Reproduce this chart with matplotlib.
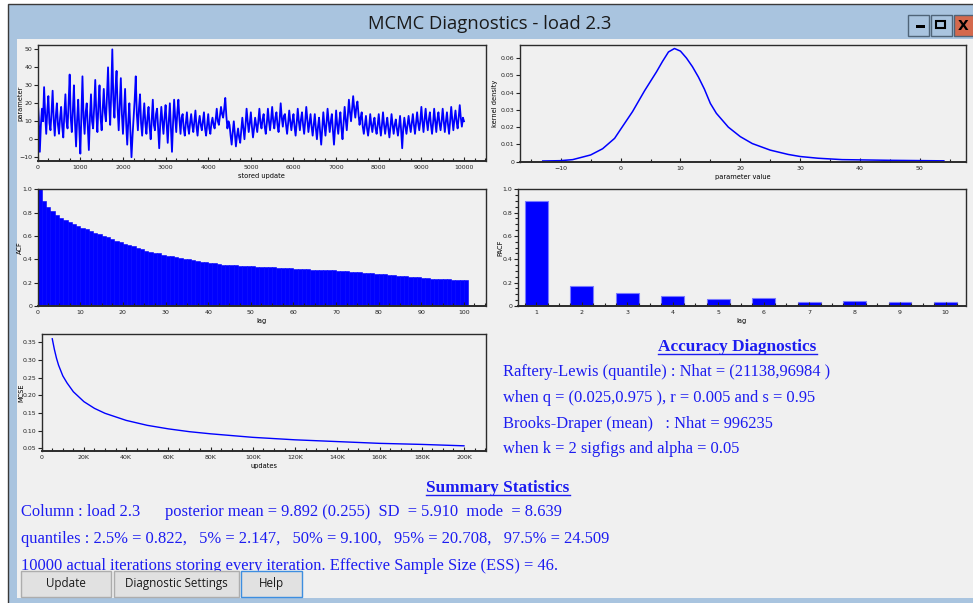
import numpy as np
import matplotlib
matplotlib.use('Agg')
import matplotlib.pyplot as plt
from matplotlib.patches import Rectangle
from matplotlib.ticker import MultipleLocator, FuncFormatter

W, H = 973, 603

# trace of the chain, one value read every 25 stored updates
trace_step = 25
trace = [
    22, 12, -7, 8, 17, 10, 29, 14, 3, 16, 24, 9, 5, 15, 27, 11, 2, 13, 20, 8,
    3, 12, 18, 7, 1, 14, 25, 10, 6, 20, 36, 12, 4, 16, 30, 9, -4, 11, 22, 6,
    -8, 14, 35, 12, 3, 15, 20, 7, -6, 12, 25, 10, 6, 18, 33, 14, 4, 19, 30, 12,
    5, 16, 28, 15, 10, 24, 40, 20, 8, 26, 50, 22, 12, 28, 38, 17, 5, 20, 34, 14,
    3, 15, 28, 9, -3, 10, 20, 4, -10, 2, 12, 22, 35, 14, 5, 17, 25, 9, 2, 12,
    20, 9, 3, 12, 18, 7, 0, 11, 22, 8, 5, 14, 17, 6, -5, 9, 18, 10, 3, 12,
    19, 8, -2, 10, 20, 6, -7, 9, 22, 12, 4, 15, 22, 11, 3, 12, 14, 6, 2, 9,
    15, 7, 3, 9, 14, 8, 4, 10, 16, 7, 2, 9, 13, 8, 5, 10, 15, 6, 2, 8,
    14, 6, 3, 9, 12, 8, 6, 11, 17, 10, 8, 13, 18, 14, 12, 17, 23, 13, 6, 10,
    8, 2, -3, 4, 10, 3, -4, 2, 6, 1, -2, 5, 12, 6, 0, 8, 17, 10, 4, 9,
    15, 7, 1, 6, 12, 8, 4, 10, 17, 9, 6, 11, 14, 7, 3, 9, 17, 10, 5, 11,
    18, 10, 6, 12, 15, 8, 4, 11, 20, 12, 7, 13, 14, 8, 3, 9, 16, 10, 5, 10,
    14, 7, 2, 9, 17, 10, 5, 11, 15, 8, 3, 10, 18, 11, 4, 9, 14, 7, 2, 8,
    14, 6, 0, 7, 12, 4, -3, 6, 15, 8, 2, 9, 17, 10, 4, 10, 14, 5, -3, 6,
    16, 8, 3, 10, 15, 6, 0, 9, 18, 11, 5, 13, 22, 15, 10, 17, 24, 17, 12, 18,
    21, 14, 8, 12, 15, 7, 3, 8, 13, 6, 2, 7, 14, 8, 4, 9, 12, 6, 3, 8,
    14, 7, 2, 8, 15, 8, 3, 8, 12, 6, 1, 7, 14, 8, 3, 8, 11, 6, 2, 7,
    13, 5, -5, 6, 12, 7, 3, 8, 13, 8, 4, 9, 14, 8, 3, 9, 15, 9, 5, 10,
    18, 10, 4, 11, 17, 10, 5, 11, 15, 8, 3, 9, 17, 10, 4, 11, 15, 9, 5, 10,
    17, 10, 4, 10, 15, 8, 3, 10, 18, 11, 5, 11, 16, 10, 6, 12, 19, 12, 7, 12,
    10,
]

kde_x = [-13, -10, -8, -5, -3, -1, 0, 2, 4, 5, 6, 7, 8, 9, 10, 11, 12, 13, 14, 15,
         16, 17, 18, 20, 22, 25, 28, 30, 33, 37, 45, 54]
kde_y = [0.0004, 0.0006, 0.0012, 0.0039, 0.0075, 0.0135, 0.0187, 0.029, 0.041, 0.0465,
         0.052, 0.058, 0.0635, 0.0655, 0.064, 0.060, 0.055, 0.049, 0.042, 0.0337,
         0.028, 0.024, 0.020, 0.0145, 0.0105, 0.0067, 0.0042, 0.003, 0.002, 0.0012,
         0.0008, 0.0005]

acf = [
    1.0,
    0.90, 0.845, 0.81, 0.78, 0.755, 0.735, 0.72, 0.70, 0.685, 0.67,
    0.66, 0.645, 0.625, 0.615, 0.60, 0.59, 0.575, 0.56, 0.545, 0.535,
    0.525, 0.51, 0.50, 0.49, 0.475, 0.465, 0.455, 0.45, 0.44, 0.43,
    0.425, 0.42, 0.41, 0.405, 0.40, 0.39, 0.385, 0.38, 0.375, 0.37,
    0.365, 0.36, 0.355, 0.352, 0.35, 0.348, 0.346, 0.344, 0.342, 0.34,
    0.337, 0.334, 0.332, 0.33, 0.33, 0.328, 0.326, 0.324, 0.322, 0.32,
    0.318, 0.316, 0.314, 0.312, 0.31, 0.31, 0.309, 0.308, 0.306, 0.304,
    0.30, 0.298, 0.295, 0.292, 0.29, 0.287, 0.284, 0.28, 0.277, 0.274,
    0.27, 0.267, 0.264, 0.26, 0.257, 0.254, 0.251, 0.248, 0.245, 0.242,
    0.238, 0.234, 0.231, 0.229, 0.228, 0.228, 0.227, 0.227, 0.226, 0.226,
]

pacf_lag = [1, 2, 3, 4, 5, 6, 7, 8, 9, 10]
pacf = [0.90, 0.175, 0.115, 0.088, 0.058, 0.068, 0.030, 0.040, 0.030, 0.030]

mcse_k = [5, 6, 7, 8, 10, 12, 15, 20, 25, 30, 40, 50, 60, 70, 80, 90, 100, 120, 140, 160, 180, 200]
mcse = [0.36, 0.33, 0.305, 0.285, 0.255, 0.235, 0.21, 0.182, 0.163, 0.149, 0.129, 0.115,
        0.105, 0.097, 0.091, 0.086, 0.081, 0.074, 0.069, 0.064, 0.061, 0.057]

title = 'MCMC Diagnostics - load 2.3'
acc_lines = ['Raftery-Lewis (quantile) : Nhat = (21138,96984 )',
             'when q = (0.025,0.975 ), r = 0.005 and s = 0.95',
             'Brooks-Draper (mean)   : Nhat = 996235',
             'when k = 2 sigfigs and alpha = 0.05']
sum_col = 'Column : load 2.3'
sum_post = 'posterior mean = 9.892 (0.255)  SD  = 5.910  mode  = 8.639'
sum_lines = ['quantiles : 2.5% = 0.822,   5% = 2.147,   50% = 9.100,   95% = 20.708,   97.5% = 24.509',
             '10000 actual iterations storing every iteration. Effective Sample Size (ESS) = 46.']
buttons = ['Update', 'Diagnostic Settings', 'Help']

BLUE = '#0000ff'
TXT = '#1c1cf0'
SERIF = 'Liberation Serif'

fig = plt.figure(figsize=(W / 100, H / 100), dpi=100)

# window chrome, drawn in pixel coordinates
bg = fig.add_axes([0, 0, 1, 1])
bg.set_xlim(0, W)
bg.set_ylim(H, 0)
bg.axis('off')
bg.add_patch(Rectangle((0, 0), W, H, facecolor='white', edgecolor='none'))
bg.add_patch(Rectangle((8, 4), W, H, facecolor='#a9c4df', edgecolor='#3a3a3a', lw=1))
bg.add_patch(Rectangle((17, 39), W - 17, 598 - 39, facecolor='#f0f0f0', edgecolor='none'))
bg.text(490, 24, title, ha='center', va='center', fontsize=13.3, family='Open Sans', color='#1a1a1a')

# title bar buttons
bg.add_patch(Rectangle((908, 15), 21, 21, facecolor='#a9c4df', edgecolor='#4f6478', lw=1))
bg.add_patch(Rectangle((916, 25), 9, 3, facecolor='black', edgecolor='none'))
bg.add_patch(Rectangle((931, 15), 21, 21, facecolor='#a9c4df', edgecolor='#4f6478', lw=1))
bg.add_patch(Rectangle((936, 21), 9, 7, facecolor='none', edgecolor='black', lw=1.5))
bg.add_patch(Rectangle((954, 15), 25, 21, facecolor='#d4694d', edgecolor='#4f6478', lw=1))
bg.text(963, 26, 'X', ha='center', va='center', fontsize=10, weight='bold', color='black')


def panel(x0, y0, x1, y1):
    ax = fig.add_axes([x0 / W, 1 - y1 / H, (x1 - x0) / W, (y1 - y0) / H])
    ax.set_facecolor('#f0f0f0')
    for s in ax.spines.values():
        s.set_color('#2b2b2b')
        s.set_linewidth(1.0)
    ax.spines['bottom'].set_linewidth(1.4)
    ax.tick_params(axis='x', which='both', direction='in', labelsize=4.5, width=0.8, pad=3, colors='#222222')
    ax.tick_params(axis='y', which='both', direction='out', labelsize=4.5, width=0.8, pad=1, colors='#222222')
    ax.tick_params(which='major', length=3)
    ax.tick_params(which='minor', length=2)
    return ax


def labels(ax, xl, yl, ylx):
    ax.set_xlabel(xl, fontsize=4.8, labelpad=2)
    ax.set_ylabel(yl, fontsize=4.8)
    ax.yaxis.set_label_coords(ylx, 0.5)


# trace
ax = panel(37.7, 44.7, 486, 161)
xs = np.arange(len(trace)) * trace_step
ax.plot(xs, trace, color=BLUE, lw=1.3)
ax.set_xlim(0, 10516)
ax.set_ylim(-12.1, 52.6)
ax.xaxis.set_major_locator(MultipleLocator(1000))
ax.xaxis.set_minor_locator(MultipleLocator(250))
ax.yaxis.set_major_locator(MultipleLocator(10))
labels(ax, 'stored update', 'parameter', -0.031)

# kernel density
ax = panel(520, 44.7, 966, 161.7)
ax.plot(kde_x, kde_y, color=BLUE, lw=1.1)
ax.set_xlim(-16.8, 57.7)
ax.set_ylim(0, 0.0677)
ax.xaxis.set_major_locator(MultipleLocator(10))
ax.xaxis.set_minor_locator(MultipleLocator(5))
ax.yaxis.set_major_locator(MultipleLocator(0.01))
ax.yaxis.set_major_formatter(FuncFormatter(lambda v, p: '0' if abs(v) < 1e-9 else '%.2f' % v))
labels(ax, 'parameter value', 'kernel density', -0.05)

# ACF
ax = panel(37.7, 189.3, 486, 306)
ax.bar(np.arange(len(acf)), acf, width=1.0, align='edge', color=BLUE, edgecolor=BLUE, lw=0.4)
ax.set_xlim(0, 105.2)
ax.set_ylim(0, 1.0)
ax.xaxis.set_major_locator(MultipleLocator(10))
ax.xaxis.set_minor_locator(MultipleLocator(2.5))
ax.yaxis.set_major_locator(MultipleLocator(0.2))
ax.yaxis.set_major_formatter(FuncFormatter(lambda v, p: '0' if abs(v) < 1e-9 else '%.1f' % v))
labels(ax, 'lag', 'ACF', -0.033)

# PACF
ax = panel(517.7, 189.3, 966, 306)
ax.bar(pacf_lag, pacf, width=0.5, color=BLUE, edgecolor='#7a7aff', lw=0.8)
ax.set_xlim(0.59, 10.45)
ax.set_ylim(0, 1.0)
ax.xaxis.set_major_locator(MultipleLocator(1))
ax.xaxis.set_minor_locator(MultipleLocator(0.25))
ax.yaxis.set_major_locator(MultipleLocator(0.2))
ax.yaxis.set_minor_locator(MultipleLocator(0.05))
ax.yaxis.set_major_formatter(FuncFormatter(lambda v, p: '0' if abs(v) < 1e-9 else '%.1f' % v))
labels(ax, 'lag', 'PACF', -0.033)

# MCSE
ax = panel(41.7, 334, 486, 450.7)
ax.plot(np.array(mcse_k) * 1000, mcse, color=BLUE, lw=1.0)
ax.set_xlim(0, 210430)
ax.set_ylim(0.0432, 0.3735)
ax.xaxis.set_major_locator(MultipleLocator(20000))
ax.xaxis.set_minor_locator(MultipleLocator(5000))
ax.xaxis.set_major_formatter(FuncFormatter(lambda v, p: '0' if v == 0 else '%dK' % (v / 1000)))
ax.yaxis.set_major_locator(MultipleLocator(0.05))
ax.yaxis.set_major_formatter(FuncFormatter(lambda v, p: '%.2f' % v))
labels(ax, 'updates', 'MCSE', -0.04)

# text blocks
fs = 11.9
hfs = 12.4
heads = []
heads.append(bg.text(737.5, 347, 'Accuracy Diagnostics', ha='center', va='center', fontsize=hfs,
                     family=SERIF, weight='bold', color=TXT))
for i, s in enumerate(acc_lines):
    bg.text(503, [372, 398, 424, 449][i], s, ha='left', va='center', fontsize=fs, family=SERIF, color=TXT)

heads.append(bg.text(498, 488, 'Summary Statistics', ha='center', va='center', fontsize=hfs,
                     family=SERIF, weight='bold', color=TXT))
bg.text(21, 512, sum_col, ha='left', va='center', fontsize=fs, family=SERIF, color=TXT)
bg.text(165, 512, sum_post, ha='left', va='center', fontsize=fs, family=SERIF, color=TXT)
bg.text(21, 539, sum_lines[0], ha='left', va='center', fontsize=fs, family=SERIF, color=TXT)
bg.text(21, 566, sum_lines[1], ha='left', va='center', fontsize=fs, family=SERIF, color=TXT)

# underline the two headings
fig.canvas.draw()
r = fig.canvas.get_renderer()
for t, yy in zip(heads, [354, 495]):
    bb = t.get_window_extent(r)
    bg.plot([bb.x0, bb.x1], [yy, yy], color=TXT, lw=1, zorder=5)

# dialog buttons cover the bottom of the last line
bx = [(21, 111), (114, 239), (241, 302)]
for (a, b), name in zip(bx, buttons):
    ec = '#3d8ee0' if name == 'Help' else '#adadad'
    bg.add_patch(Rectangle((a, 571), b - a, 26, facecolor='#e1e1e1', edgecolor=ec, lw=1, zorder=6))
    bg.text((a + b) / 2, 584, name, ha='center', va='center', fontsize=8.4, family='Open Sans',
            color='#1a1a1a', zorder=7)

fig.savefig('out.png', dpi=100)
